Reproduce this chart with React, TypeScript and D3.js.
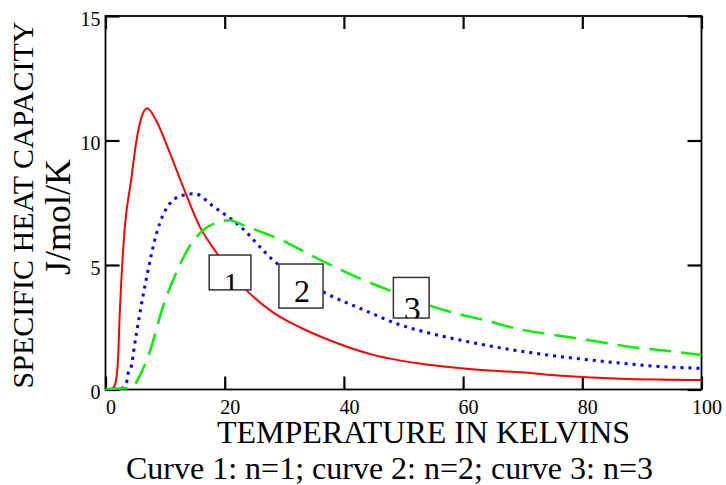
import React, { useEffect, useRef } from 'react';
import * as d3 from 'd3';

// temperature (K) and specific heat (J/mol/K)
const curve1 = [
  [0, 0], [1.0, 0.02], [1.6, 0.2], [2.1, 1.2], [2.4, 3.1], [3.2, 6.4], [4.3, 8.4],
  [5.2, 10.0], [6.0, 10.9], [7.0, 11.3], [8.5, 10.8], [10.8, 9.5], [13, 8.15],
  [15.8, 6.55], [18.6, 5.5], [23.6, 4.0], [28.1, 3.1], [32.6, 2.5], [37.8, 1.96],
  [45.1, 1.38], [54.6, 0.98], [63, 0.78], [69.7, 0.69], [75.3, 0.57], [86.5, 0.43],
  [100, 0.38]
];
const curve2 = [
  [0, 0], [2.5, 0.02], [3.5, 0.25], [3.8, 0.65], [4.4, 1.0], [4.7, 1.5], [5.8, 3.1],
  [6.9, 4.5], [8.6, 6.3], [10.9, 7.5], [13.0, 7.8], [15.0, 7.86], [18.1, 7.35],
  [22.6, 6.55], [28.1, 5.2], [37.1, 3.85], [43.4, 3.19], [49, 2.63], [54.6, 2.25],
  [60.2, 1.95], [68.6, 1.58], [76.4, 1.32], [83.1, 1.14], [92, 0.94], [100, 0.85]
];
const curve3 = [
  [0, 0.02], [4.5, 0.08], [5.4, 0.4], [7.4, 1.5], [9.6, 3.3], [11.9, 4.7], [14.1, 5.75],
  [16.4, 6.4], [18.6, 6.7], [20.8, 6.8], [23.1, 6.6], [27, 6.25], [30, 5.95], [33.2, 5.55],
  [36.7, 5.13], [41.8, 4.55], [46.7, 4.07], [56.8, 3.19], [63.5, 2.79], [69.7, 2.41],
  [75.3, 2.19], [82, 1.95], [88.7, 1.69], [95.5, 1.52], [100, 1.38]
];
const curveNames = ['1', '2', '3'];
const xTicks = [0, 20, 40, 60, 80, 100];
const yTicks = [0, 5, 10, 15];

const FONT = '"Liberation Serif", "Times New Roman", serif';

function Chart() {
  const ref = useRef<SVGSVGElement>(null);

  useEffect(() => {
    const svg = d3.select(ref.current);
    svg.selectAll('*').remove();

    const x = d3.scaleLinear().domain([0, 100]).range([105.5, 701.5]);
    const y = d3.scaleLinear().domain([0, 15]).range([389.5, 16]);

    // inward ticks on all four sides
    const styleAxis = (g) => {
      g.attr('font-family', FONT).attr('font-size', 20);
      g.select('.domain').remove();
      g.selectAll('.tick line').attr('stroke', '#000').attr('stroke-width', 2.2);
      g.selectAll('.tick text')
        .attr('font-family', FONT).attr('font-size', 20).attr('fill', '#000');
    };

    svg.append('g')
      .attr('transform', `translate(0,${y(0)})`)
      .call(d3.axisBottom(x).tickValues(xTicks).tickSize(-13).tickSizeOuter(0).tickPadding(10))
      .call(styleAxis)
      .selectAll('text').attr('dx', 5);

    svg.append('g')
      .attr('transform', `translate(0,${y(15)})`)
      .call(d3.axisTop(x).tickValues(xTicks).tickSize(-13).tickSizeOuter(0).tickFormat(() => ''))
      .call(styleAxis);

    svg.append('g')
      .attr('transform', `translate(${x(0)},0)`)
      .call(d3.axisLeft(y).tickValues(yTicks).tickSize(-14).tickSizeOuter(0).tickPadding(5))
      .call(styleAxis)
      .selectAll('text').attr('dy', '0.45em');

    svg.append('g')
      .attr('transform', `translate(${x(100)},0)`)
      .call(d3.axisRight(y).tickValues(yTicks).tickSize(-14).tickSizeOuter(0).tickFormat(() => ''))
      .call(styleAxis);

    svg.append('rect')
      .attr('x', x(0)).attr('y', y(15))
      .attr('width', x(100) - x(0)).attr('height', y(0) - y(15))
      .attr('fill', 'none').attr('stroke', '#000').attr('stroke-width', 1.8);

    const line = d3.line()
      .x(d => x(d[0]))
      .y(d => y(d[1]))
      .curve(d3.curveMonotoneX);

    svg.append('path').datum(curve1).attr('d', line)
      .attr('fill', 'none').attr('stroke', '#ff0000').attr('stroke-width', 2);
    svg.append('path').datum(curve2).attr('d', line)
      .attr('fill', 'none').attr('stroke', '#0000ff').attr('stroke-width', 3)
      .attr('stroke-dasharray', '3,5');
    svg.append('path').datum(curve3).attr('d', line)
      .attr('fill', 'none').attr('stroke', '#00f000').attr('stroke-width', 2.5)
      .attr('stroke-dasharray', '22,10');

    // numbered label boxes (data units), text clipped at box bottom like the original
    const boxes = [
      { x0: 17.4, x1: 24.4, y0: 5.4, y1: 4.0, size: 30, base: 293 },
      { x0: 29.1, x1: 36.5, y0: 5.04, y1: 3.27, size: 32, base: 302 },
      { x0: 48.3, x1: 54.3, y0: 4.5, y1: 2.87, size: 34, base: 320 }
    ];
    boxes.forEach((b, i) => {
      const bx = x(b.x0), by = y(b.y0), bw = x(b.x1) - x(b.x0), bh = y(b.y1) - y(b.y0);
      svg.append('clipPath').attr('id', 'lab' + i)
        .append('rect').attr('x', bx).attr('y', by).attr('width', bw).attr('height', bh);
      svg.append('rect')
        .attr('x', bx).attr('y', by).attr('width', bw).attr('height', bh)
        .attr('fill', '#fff').attr('stroke', '#333').attr('stroke-width', 1.5);
      svg.append('text')
        .attr('clip-path', `url(#lab${i})`)
        .attr('x', bx + bw / 2 + 1).attr('y', b.base)
        .attr('text-anchor', 'middle')
        .attr('font-family', FONT).attr('font-size', b.size)
        .text(curveNames[i]);
    });

    svg.append('text')
      .attr('x', 217).attr('y', 443)
      .attr('font-family', FONT).attr('font-size', 32)
      .text('TEMPERATURE IN KELVINS');

    svg.append('text')
      .attr('x', 126).attr('y', 479)
      .attr('font-family', FONT).attr('font-size', 32)
      .text('Curve 1: n=1; curve 2: n=2; curve 3: n=3');

    svg.append('text')
      .attr('transform', 'translate(33,205) rotate(-90)')
      .attr('text-anchor', 'middle')
      .attr('font-family', FONT).attr('font-size', 30)
      .text('SPECIFIC HEAT CAPACITY');

    svg.append('text')
      .attr('transform', 'translate(70,217) rotate(-90)')
      .attr('text-anchor', 'middle')
      .attr('font-family', FONT).attr('font-size', 36)
      .text('J/mol/K');
  }, []);

  return (
    <svg ref={ref} width={726} height={485}
      style={{ position: 'absolute', left: 0, top: 0, background: '#fff' }} />
  );
}

export default function App() {
  return <Chart />;
}
